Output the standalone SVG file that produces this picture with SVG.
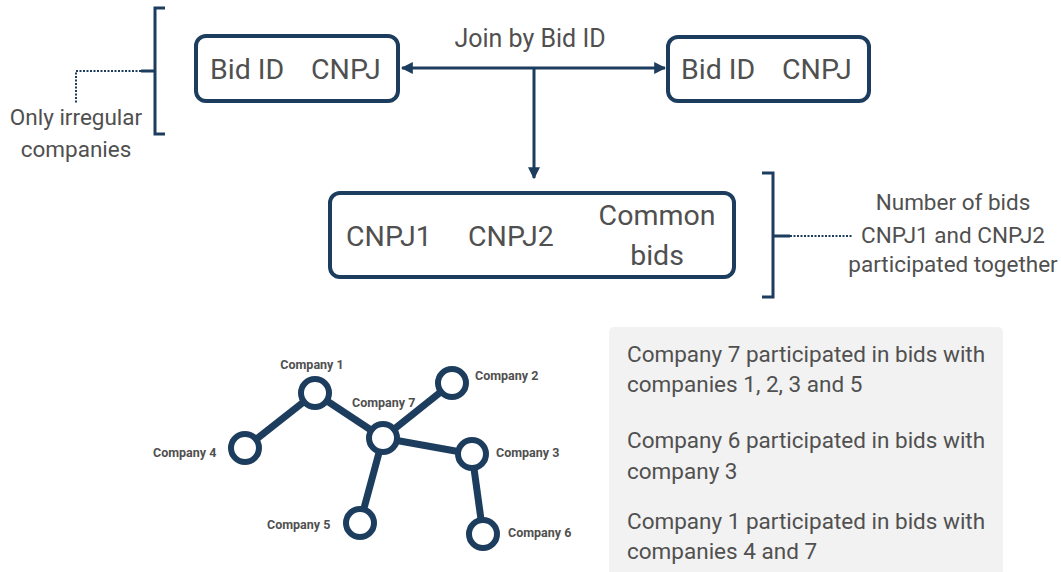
<svg xmlns="http://www.w3.org/2000/svg" width="1061" height="572" viewBox="0 0 1061 572">
<style>
.box{fill:#fff;stroke:#1d3d5e;stroke-width:4}
.ln{fill:none;stroke:#1d3d5e;stroke-width:3}
.dot{fill:none;stroke:#1d3d5e;stroke-width:2;stroke-dasharray:2 1.5}
.t{font-family:Roboto,"Liberation Sans",sans-serif;fill:#505050}
.big{font-size:28.5px}
.join{font-size:25px}
.mid{font-size:22.5px}
.sm{font-size:12.5px;font-weight:bold}
.edge{stroke:#1d3d5e;stroke-width:7;fill:none}
.node{fill:#fff;stroke:#1d3d5e;stroke-width:6}
</style>
<defs>
<marker id="ah" viewBox="0 0 10 10" refX="9" refY="5" markerWidth="4" markerHeight="4" orient="auto-start-reverse" markerUnits="strokeWidth">
<path d="M0,0 L10,5 L0,10 z" fill="#1d3d5e"/>
</marker>
</defs>
<g id="connectors">
<line class="ln" x1="402" y1="68" x2="665" y2="68" marker-start="url(#ah)" marker-end="url(#ah)"/>
<line class="ln" x1="534" y1="68" x2="534" y2="178" marker-end="url(#ah)"/>
</g>
<g id="join-label"><text class="t join" x="530" y="47" text-anchor="middle">Join by Bid ID</text></g>
<g id="box1">
<rect class="box" x="196" y="36" width="202" height="65" rx="10"/>
<text class="t big" x="210" y="79">Bid ID</text>
<text class="t big" x="311" y="79">CNPJ</text>
</g>
<g id="box2">
<rect class="box" x="668" y="37" width="201" height="64" rx="10"/>
<text class="t big" x="681" y="79">Bid ID</text>
<text class="t big" x="782" y="79">CNPJ</text>
</g>
<g id="box3">
<rect class="box" x="330" y="193" width="404" height="84" rx="10"/>
<text class="t big" x="346" y="246">CNPJ1</text>
<text class="t big" x="468" y="246">CNPJ2</text>
<text class="t big" x="657" y="225" text-anchor="middle">Common</text>
<text class="t big" x="657" y="265" text-anchor="middle">bids</text>
</g>
<g id="bracket-left">
<path class="ln" d="M165,8 H155 V134 H165 M155,71 H141"/>
<path class="dot" d="M141,71 H76 V104"/>
<text class="t mid" x="76" y="125" text-anchor="middle">Only irregular</text>
<text class="t mid" x="76" y="157" text-anchor="middle">companies</text>
</g>
<g id="bracket-right">
<path class="ln" d="M762,173 H773 V297 H762 M773,236 H790"/>
<path class="dot" d="M790,236 H853"/>
<text class="t mid" x="953" y="210" text-anchor="middle">Number of bids</text>
<text class="t mid" x="953" y="243" text-anchor="middle">CNPJ1 and CNPJ2</text>
<text class="t mid" x="953" y="272" text-anchor="middle">participated together</text>
</g>
<g id="network-edges">
<line class="edge" x1="245" y1="448" x2="315" y2="393"/>
<line class="edge" x1="315" y1="393" x2="383" y2="438"/>
<line class="edge" x1="383" y1="438" x2="452" y2="383"/>
<line class="edge" x1="383" y1="438" x2="472" y2="454"/>
<line class="edge" x1="383" y1="438" x2="360" y2="523"/>
<line class="edge" x1="472" y1="454" x2="483" y2="534"/>
</g>
<g id="company1"><circle class="node" cx="315" cy="393" r="14"/><text class="t sm" x="312" y="369" text-anchor="middle">Company 1</text></g>
<g id="company2"><circle class="node" cx="452" cy="383" r="14"/><text class="t sm" x="475" y="380">Company 2</text></g>
<g id="company3"><circle class="node" cx="472" cy="454" r="14"/><text class="t sm" x="496" y="457">Company 3</text></g>
<g id="company4"><circle class="node" cx="245" cy="448" r="14"/><text class="t sm" x="153" y="457">Company 4</text></g>
<g id="company5"><circle class="node" cx="360" cy="523" r="14"/><text class="t sm" x="267" y="529">Company 5</text></g>
<g id="company6"><circle class="node" cx="483" cy="534" r="14"/><text class="t sm" x="508" y="537">Company 6</text></g>
<g id="company7"><circle class="node" cx="383" cy="438" r="14"/><text class="t sm" x="352" y="407">Company 7</text></g>
<g id="summary">
<rect x="609" y="327" width="394" height="260" rx="5" fill="#f2f2f2"/>
<text class="t mid" x="627" y="362">Company 7 participated in bids with</text>
<text class="t mid" x="627" y="392">companies 1, 2, 3 and 5</text>
<text class="t mid" x="627" y="448">Company 6 participated in bids with</text>
<text class="t mid" x="627" y="479">company 3</text>
<text class="t mid" x="627" y="529">Company 1 participated in bids with</text>
<text class="t mid" x="627" y="559">companies 4 and 7</text>
</g>
</svg>
